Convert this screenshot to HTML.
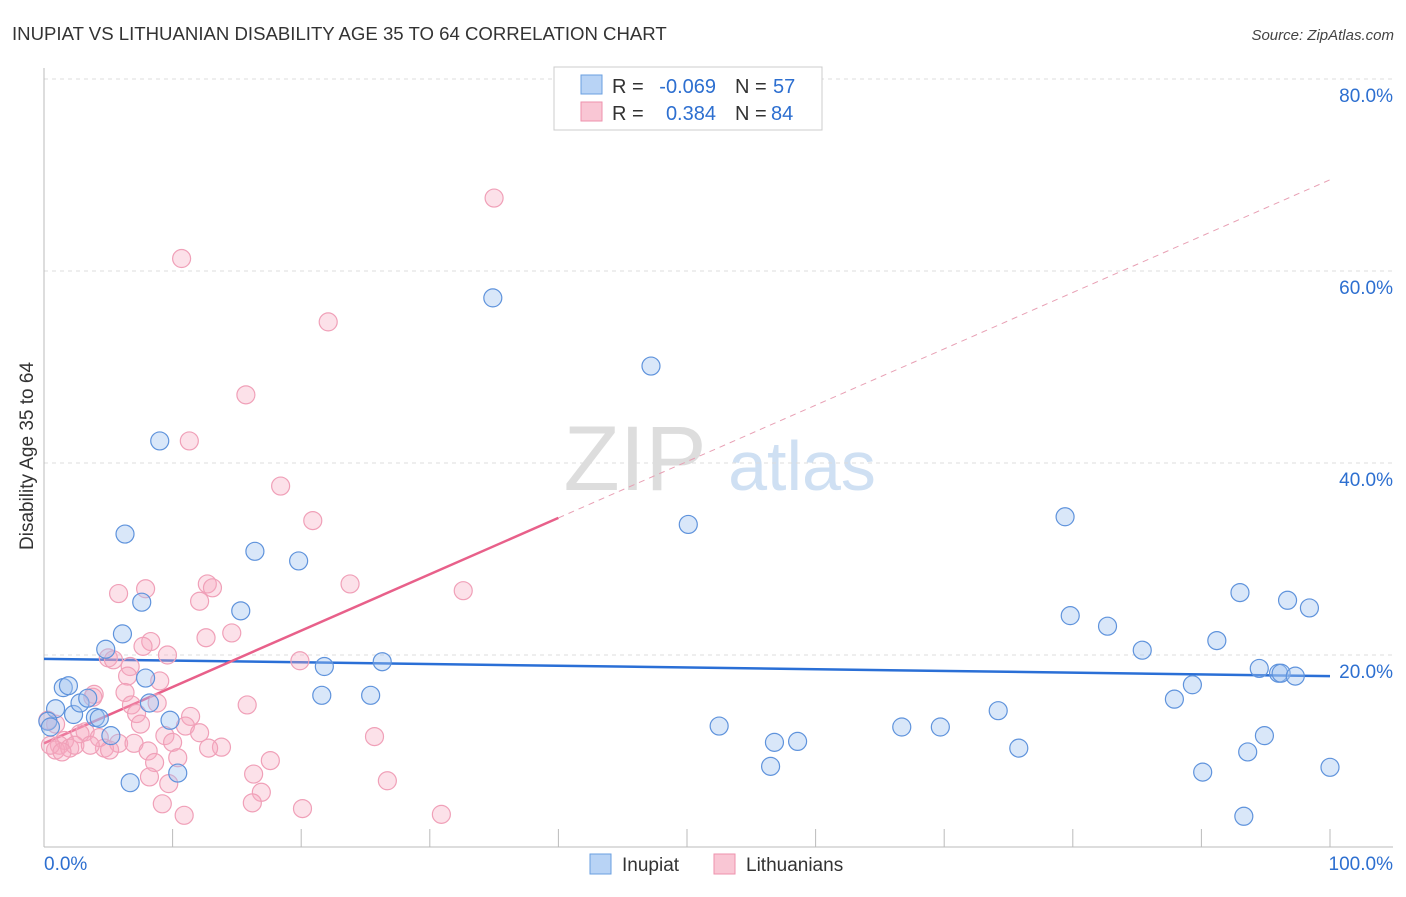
<!DOCTYPE html>
<html><head><meta charset="utf-8"><style>
body{margin:0;background:#fff;font-family:"Liberation Sans",sans-serif}
svg text{font-family:"Liberation Sans",sans-serif}
</style></head><body>
<svg id="chart" width="1406" height="892" xmlns="http://www.w3.org/2000/svg">
<text x="12" y="40" font-size="18.6" fill="#333">INUPIAT VS LITHUANIAN DISABILITY AGE 35 TO 64 CORRELATION CHART</text>
<text x="1394" y="40" font-size="15" fill="#444" text-anchor="end" font-style="italic">Source: ZipAtlas.com</text>
<text x="33" y="456" font-size="19" fill="#333" text-anchor="middle" transform="rotate(-90 33 456)">Disability Age 35 to 64</text>
<g><text x="635" y="490" font-size="92" fill="#ddd" font-family="Liberation Serif" text-anchor="middle">ZIP</text><text x="802" y="490" font-size="70" fill="#cfe0f3" text-anchor="middle">atlas</text></g>
<g id="grid"></g><g id="axes"></g><g id="trend"></g><g id="pts"></g>
<g>
<rect x="554" y="67" width="268" height="63" fill="#fff" stroke="#ccc"/>
<rect x="581" y="75" width="21" height="19" fill="#b8d3f5" stroke="#6a9fe0"/>
<rect x="581" y="102" width="21" height="19" fill="#f9c6d4" stroke="#ee92ad"/>
<text x="612" y="93" font-size="20" fill="#333">R =</text>
<text x="716" y="93" font-size="20" fill="#2d6fd0" text-anchor="end">-0.069</text>
<text x="735" y="93" font-size="20" fill="#333">N =</text>
<text x="773" y="93" font-size="20" fill="#2d6fd0">57</text>
<text x="612" y="120" font-size="20" fill="#333">R =</text>
<text x="716" y="120" font-size="20" fill="#2d6fd0" text-anchor="end">0.384</text>
<text x="735" y="120" font-size="20" fill="#333">N =</text>
<text x="771" y="120" font-size="20" fill="#2d6fd0">84</text>
</g>
<g>
<rect x="590" y="854" width="21" height="20" fill="#b8d3f5" stroke="#6a9fe0"/>
<text x="622" y="871" font-size="19" fill="#333">Inupiat</text>
<rect x="714" y="854" width="21" height="20" fill="#f9c6d4" stroke="#ee92ad"/>
<text x="746" y="871" font-size="19" fill="#333">Lithuanians</text>
</g>
</svg>
<script>
const yTicks=[20,40,60,80];
const yTickLabels=["20.0%","40.0%","60.0%","80.0%"];
const xTicks=[0,10,20,30,40,50,60,70,80,90,100];
const blueX=[34.9,47.2,9.0,6.3,50.1,79.4,16.4,19.8,7.6,15.3,6.1,4.8,7.9,1.5,1.9,0.9,2.3,2.8,3.4,4.0,4.3,5.2,0.3,0.5,8.2,9.8,10.4,6.7,21.6,21.8,25.4,26.3,52.5,56.5,56.8,58.6,66.7,69.7,74.2,75.8,79.8,82.7,85.4,87.9,89.3,91.2,93.0,90.1,93.3,93.6,94.5,94.9,96.0,96.2,96.7,97.3,98.4,100];
const blueY=[57.2,50.1,42.3,32.6,33.6,34.4,30.8,29.8,25.5,24.6,22.2,20.6,17.6,16.6,16.8,14.4,13.8,15.0,15.5,13.5,13.4,11.6,13.1,12.5,15.0,13.2,7.7,6.7,15.8,18.8,15.8,19.3,12.6,8.4,10.9,11.0,12.5,12.5,14.2,10.3,24.1,23.0,20.5,15.4,16.9,21.5,26.5,7.8,3.2,9.9,18.6,11.6,18.1,18.1,25.7,17.8,24.9,8.3];
const pinkX=[35.0,10.7,22.1,15.7,11.3,18.4,20.9,23.8,32.6,12.7,13.1,7.9,5.8,12.1,14.6,8.3,12.6,7.7,9.6,5.0,5.4,19.9,6.7,6.5,9.0,6.3,3.9,3.8,8.8,6.8,15.8,11.4,7.2,7.5,11.0,3.2,2.8,9.4,12.1,25.7,10.0,5.8,7.0,13.8,12.8,8.1,4.7,5.1,1.6,1.2,0.9,0.5,2.0,2.4,10.4,8.6,17.6,16.3,8.2,9.7,26.7,16.9,9.2,16.2,20.1,10.9,30.9,0.9,0.3,4.3,3.6,1.4];
const pinkY=[67.6,61.3,54.7,47.1,42.3,37.6,34.0,27.4,26.7,27.4,27.0,26.9,26.4,25.6,22.3,21.4,21.8,20.9,20.0,19.7,19.5,19.4,18.8,17.8,17.3,16.1,15.9,15.6,15.0,14.8,14.8,13.6,13.9,12.8,12.6,12.0,11.8,11.6,11.9,11.5,10.9,10.8,10.8,10.4,10.3,10.0,10.3,10.1,11.1,10.6,10.1,10.6,10.3,10.6,9.3,8.8,9.0,7.6,7.3,6.6,6.9,5.7,4.5,4.6,4.0,3.3,3.4,12.8,13.2,11.4,10.6,9.9];
const blueTrend=[19.6,17.8];
const pinkTrend=[10.8,69.5];
const pinkSolidEnd=40;
const NS="http://www.w3.org/2000/svg";
const X=v=>44+v*12.86, Y=v=>847-v*9.6;
function mk(tag,attrs,parent){const e=document.createElementNS(NS,tag);for(const k in attrs)e.setAttribute(k,attrs[k]);document.getElementById(parent).appendChild(e);return e;}
yTicks.forEach((t,i)=>{
 const g=mk('line',{x1:44,x2:1393,y1:Y(t),y2:Y(t),stroke:'#ddd','stroke-dasharray':'4,4'},'grid');
 
 
 const l=mk('text',{x:1393,y:Y(t)+23,'font-size':19,fill:'#2d6fd0','text-anchor':'end'},'grid');
 l.textContent=yTickLabels[i];
 
 
});
const ax=mk('line',{x1:44,x2:44,y1:68,y2:847,stroke:'#bbb'},'axes');


const bx=mk('line',{x1:44,x2:1393,y1:847,y2:847,stroke:'#bbb'},'axes');


xTicks.forEach(t=>{
 const k=mk('line',{x1:X(t),x2:X(t),y1:829,y2:847,stroke:'#bbb'},'axes');
 
 
});
const x0=mk('text',{x:44,y:870,'font-size':19,fill:'#2d6fd0'},'axes');x0.textContent='0.0%';


const x1=mk('text',{x:1393,y:870,'font-size':19,fill:'#2d6fd0','text-anchor':'end'},'axes');x1.textContent='100.0%';


pinkX.forEach((v,i)=>{
 const c=mk('circle',{cx:X(v),cy:Y(pinkY[i]),r:9,fill:'rgba(246,168,192,0.35)',stroke:'#f0a0b8','stroke-width':1.2},'pts');
 
 
});
blueX.forEach((v,i)=>{
 const c=mk('circle',{cx:X(v),cy:Y(blueY[i]),r:9,fill:'rgba(160,196,240,0.4)',stroke:'#5f93dc','stroke-width':1.2},'pts');
 
 
});
const bt=mk('line',{x1:X(0),y1:Y(blueTrend[0]),x2:X(100),y2:Y(blueTrend[1]),stroke:'#2a6fd6','stroke-width':2.5},'trend');


const pm=pinkTrend[0]+(pinkTrend[1]-pinkTrend[0])*pinkSolidEnd/100;
const ps=mk('line',{x1:X(0),y1:Y(pinkTrend[0]),x2:X(pinkSolidEnd),y2:Y(pm),stroke:'#e8608a','stroke-width':2.5},'trend');


const pd=mk('line',{x1:X(pinkSolidEnd),y1:Y(pm),x2:X(100),y2:Y(pinkTrend[1]),stroke:'#e8a0b4','stroke-width':1,'stroke-dasharray':'6,5'},'trend');


</script>
</body></html>
